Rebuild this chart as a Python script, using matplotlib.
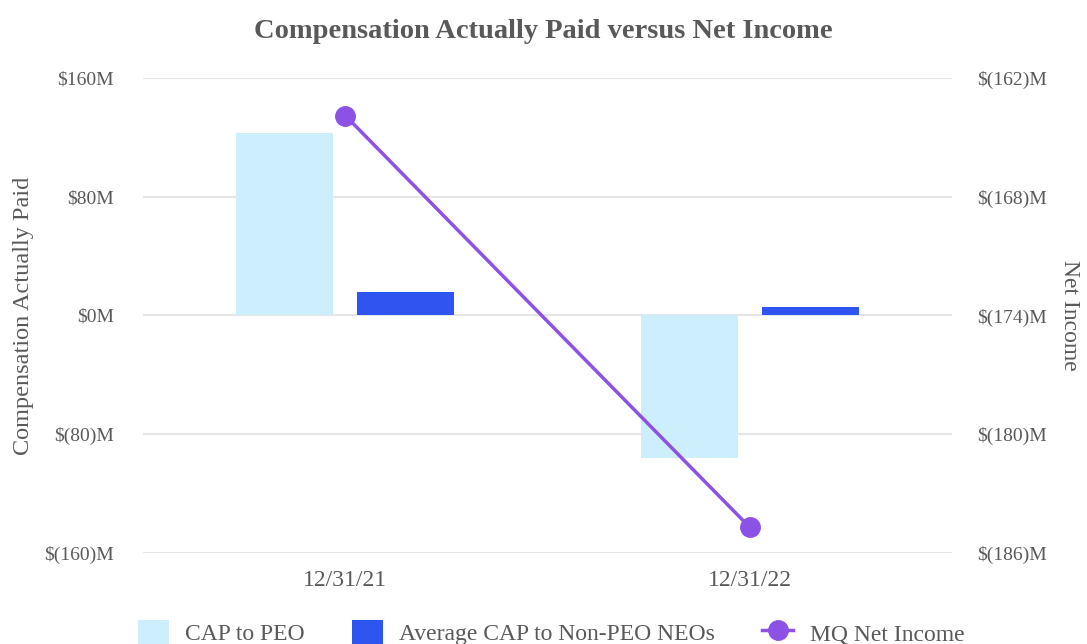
import numpy as np
import matplotlib
matplotlib.use('Agg')
import matplotlib.pyplot as plt

# Data
years = ['12/31/21', '12/31/22']
cap_peo = [123.0, -96.0]          # $M
cap_non_peo = [16.0, 5.5]         # $M
net_income = [-163.9, -184.7]     # $M

left_ticks = [160, 80, 0, -80, -160]
right_ticks = [-162, -168, -174, -180, -186]

plt.rcParams['font.family'] = ['Liberation Serif', 'DejaVu Serif']
gray = '#595959'

fig = plt.figure(figsize=(10.87, 6.44), dpi=100)
ax = fig.add_axes([0.1316, 0.1413, 0.7442, 0.7376])

x = np.arange(len(years))
w = 0.24
ax.bar(x - 0.15, cap_peo, w, color='#cdeefc', label='CAP to PEO', zorder=2)
ax.bar(x + 0.15, cap_non_peo, w, color='#2f55f0', label='Average CAP to Non-PEO NEOs', zorder=2)

ax.set_xlim(-0.5, 1.5)
ax.set_ylim(-160, 160)
ax.set_yticks(left_ticks)


def fmt_money(v):
    if v < 0:
        return '$(%d)M' % abs(v)
    return '$%dM' % v


ax.set_yticklabels([fmt_money(v) for v in left_ticks])
ax.set_xticks(x)
ax.set_xticklabels(years)
ax.grid(axis='y', color='#e6e6e6', linewidth=1.5, zorder=0)
for s in ax.spines.values():
    s.set_visible(False)
ax.tick_params(length=0, colors=gray)
ax.tick_params(axis='x', labelsize=17, pad=12)
ax.tick_params(axis='y', labelsize=14, pad=21)
ax.set_ylabel('Compensation Actually Paid', fontsize=17.5, color=gray)
ax.yaxis.set_label_coords(-0.135, 0.5)

ax2 = ax.twinx()
ax2.set_ylim(-186, -162)
ax2.set_yticks(right_ticks)
ax2.set_yticklabels([fmt_money(v) for v in right_ticks])
for s in ax2.spines.values():
    s.set_visible(False)
ax2.tick_params(length=0, labelsize=14, colors=gray, pad=18)
ax2.plot(x, net_income, color='#8c52e6', linewidth=2.5, marker='o', markersize=14,
         label='MQ Net Income', zorder=3)
ax2.set_ylabel('Net Income', fontsize=17, color=gray, rotation=270, va='center')
ax2.yaxis.set_label_coords(1.145, 0.5)

fig.suptitle('Compensation Actually Paid versus Net Income', fontsize=20.5,
             fontweight='bold', color=gray, y=0.97)

h1, l1 = ax.get_legend_handles_labels()
h2, l2 = ax2.get_legend_handles_labels()
fig.legend(h1 + h2, l1 + l2, loc='lower center', ncol=3, frameon=False,
           fontsize=17, labelcolor=gray, bbox_to_anchor=(0.507, -0.035),
           handlelength=1.3, handleheight=1.2, handletextpad=0.7, columnspacing=2.0)

fig.savefig('out.png', dpi=100)
